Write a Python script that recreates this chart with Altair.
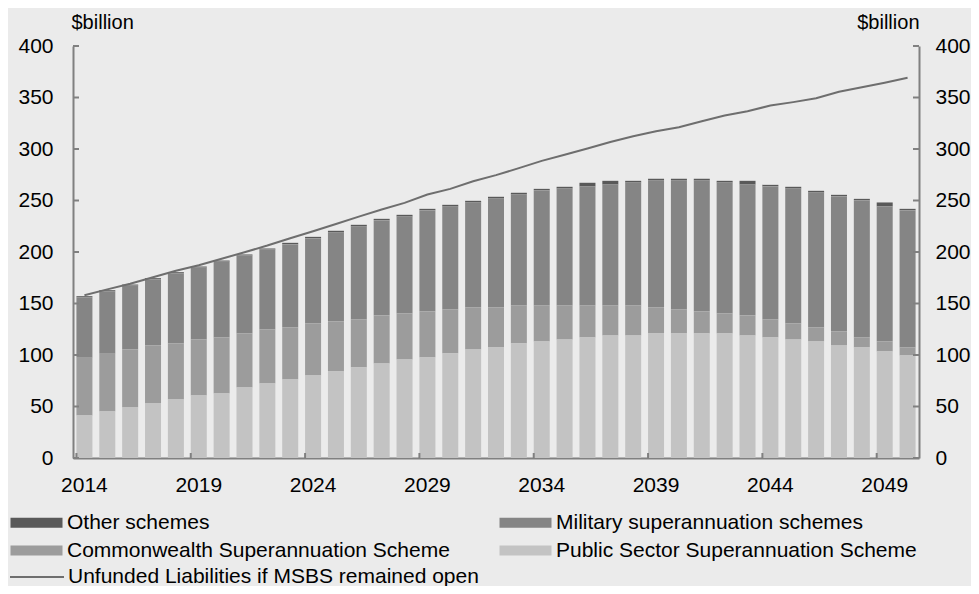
import altair as alt
import pandas as pd

years = list(range(2014, 2051))

schemes = [
    "Other schemes",
    "Commonwealth Superannuation Scheme",
    "Military superannuation schemes",
    "Public Sector Superannuation Scheme",
]
line_name = "Unfunded Liabilities if MSBS remained open"

pss = [41.3, 45.1, 49.0, 52.9, 56.8, 60.7, 62.6, 68.4, 72.3, 76.2,
       80.1, 84.0, 87.9, 91.7, 95.6, 97.6, 101.5, 105.3, 107.3, 111.2,
       113.1, 115.0, 117.0, 118.9, 118.9, 120.9, 120.9, 120.9, 120.9, 118.9,
       117.0, 115.0, 113.1, 109.2, 107.3, 103.4, 99.5]
css = [56.0, 56.1, 56.3, 56.3, 54.4, 54.3, 54.4, 52.5, 52.5, 50.5,
       50.5, 48.5, 46.6, 46.6, 44.7, 44.6, 42.7, 40.8, 38.8, 36.9,
       35.0, 33.1, 31.1, 29.2, 29.2, 25.2, 23.3, 21.3, 19.4, 19.4,
       17.5, 15.6, 13.6, 13.6, 9.7, 9.7, 7.8]
military = [58.8, 60.7, 62.1, 64.4, 68.2, 69.9, 73.7, 75.7, 77.6, 80.7,
            82.6, 86.6, 90.4, 92.4, 94.3, 98.2, 100.1, 102.1, 106.0, 107.9,
            111.7, 113.7, 115.5, 117.4, 119.5, 123.5, 125.4, 127.4, 127.3, 127.2,
            129.2, 131.2, 131.2, 131.2, 133.1, 131.1, 133.1]
other = [1.0, 1.0, 1.0, 1.0, 1.0, 1.0, 1.0, 1.0, 1.0, 1.5,
         1.5, 1.5, 1.5, 1.5, 1.5, 1.5, 1.5, 1.5, 1.5, 1.5,
         1.5, 1.5, 3.6, 3.6, 1.5, 1.5, 1.5, 1.5, 1.5, 3.6,
         1.5, 1.5, 1.5, 1.5, 1.5, 3.9, 1.5]
unfunded_open = [158.0, 163.7, 169.2, 175.5, 181.8, 187.2, 193.4, 199.8, 206.3, 213.4,
                 220.2, 227.2, 234.3, 241.3, 247.7, 255.8, 261.3, 268.7, 274.6, 281.4,
                 288.5, 294.5, 300.5, 306.8, 312.4, 317.3, 321.2, 327.0, 332.5, 336.7,
                 342.2, 345.5, 349.3, 355.5, 360.0, 364.3, 369.1]

x_label_years = [2014, 2019, 2024, 2029, 2034, 2039, 2044, 2049]
y_ticks = [0, 50, 100, 150, 200, 250, 300, 350, 400]

colors = ["#595959", "#9c9c9c", "#858585", "#c3c3c3"]
line_color = "#6e6e6e"
axis_color = "#808080"
FONT = "Liberation Sans"

W, H = 846, 412

series = {"Other schemes": other, "Military superannuation schemes": military,
          "Commonwealth Superannuation Scheme": css, "Public Sector Superannuation Scheme": pss}
rank = {"Public Sector Superannuation Scheme": 0, "Commonwealth Superannuation Scheme": 1,
        "Military superannuation schemes": 2, "Other schemes": 3}
rows = []
for name, vals in series.items():
    for yr, v in zip(years, vals):
        rows.append({"year": yr, "scheme": name, "value": v, "rank": rank[name]})
bars_df = pd.DataFrame(rows)
line_df = pd.DataFrame({"year": years, "value": unfunded_open, "series": line_name})
xt_df = pd.DataFrame({"year": x_label_years})
yt_df = pd.DataFrame({"v": y_ticks})

xscale = alt.Scale(domain=years, paddingInner=0.3, paddingOuter=0.15)
yscale = alt.Scale(domain=[0, 400], nice=False)

x_axis = alt.Axis(values=x_label_years, labelAngle=0, ticks=False, tickSize=0,
                  labelPadding=16, domainColor=axis_color, domainWidth=2, title=None)

bars = alt.Chart(bars_df).mark_bar().encode(
    x=alt.X("year:O", scale=xscale, title=None, axis=x_axis),
    y=alt.Y("value:Q", scale=yscale, stack="zero",
            axis=alt.Axis(values=y_ticks, ticks=False, tickSize=0, labelPadding=20, grid=False,
                          domainColor=axis_color, domainWidth=2,
                          title="$billion", titleAngle=0, titleAlign="left", titleX=-2, titleY=-18,
                          titleBaseline="alphabetic", titleFontWeight="normal", titleFontSize=20)),
    color=alt.Color("scheme:N", scale=alt.Scale(domain=schemes, range=colors),
                    legend=alt.Legend(orient="none", legendX=-47, legendY=466, columns=2, title=None,
                                      symbolType="M-2.6,-0.5H2.6V0.5H-2.6Z", symbolSize=400,
                                      symbolStrokeWidth=0, labelOffset=20, labelFontSize=21,
                                      labelFont=FONT, labelColor="#000", labelLimit=0,
                                      columnPadding=49, rowPadding=6)),
    order=alt.Order("rank:Q"),
)

line = alt.Chart(line_df).mark_line(strokeWidth=2).encode(
    x=alt.X("year:O", scale=xscale, title=None, axis=x_axis),
    y=alt.Y("value:Q", scale=yscale,
            axis=alt.Axis(orient="right", values=y_ticks, ticks=False, tickSize=0, labelPadding=16,
                          grid=False, domainColor=axis_color, domainWidth=2,
                          title="$billion", titleAngle=0, titleAlign="right", titleX=0, titleY=-18,
                          titleBaseline="alphabetic", titleFontWeight="normal", titleFontSize=20)),
    stroke=alt.Stroke("series:N", scale=alt.Scale(domain=[line_name], range=[line_color]),
                      legend=alt.Legend(orient="none", legendX=-47, legendY=520, title=None,
                                        symbolType="M-2.7,0H2.7", symbolSize=400, symbolStrokeWidth=2,
                                        labelOffset=20, labelFontSize=21, labelFont=FONT,
                                        labelColor="#000", labelLimit=0)),
)

xticks = alt.Chart(xt_df).mark_rule(color=axis_color, strokeWidth=2).encode(
    x=alt.X("year:O", scale=xscale, bandPosition=0, title=None, axis=x_axis),
    y=alt.value(H - 5), y2=alt.value(H),
)
yticks_left = alt.Chart(yt_df).mark_rule(color=axis_color, strokeWidth=2).encode(
    y=alt.Y("v:Q", scale=yscale, axis=None),
    x=alt.value(0), x2=alt.value(6),
)
yticks_right = alt.Chart(yt_df).mark_rule(color=axis_color, strokeWidth=2).encode(
    y=alt.Y("v:Q", scale=yscale, axis=None),
    x=alt.value(W - 6), x2=alt.value(W),
)

chart = (
    alt.layer(bars, line, xticks, yticks_left, yticks_right)
    .resolve_axis(y="independent")
    .resolve_legend(color="independent", stroke="independent")
    .properties(width=W, height=H, background="#ebebeb",
                padding={"left": 65, "top": 38, "right": 52, "bottom": 128},
                autosize=alt.AutoSizeParams(type="none"))
    .configure_view(strokeWidth=0)
    .configure_axis(labelFont=FONT, labelFontSize=21, labelColor="#000", titleFont=FONT,
                    titleColor="#000")
    .configure_legend(labelFont=FONT)
)

chart.save("out.html", embed_options={"renderer": "svg", "actions": False})
